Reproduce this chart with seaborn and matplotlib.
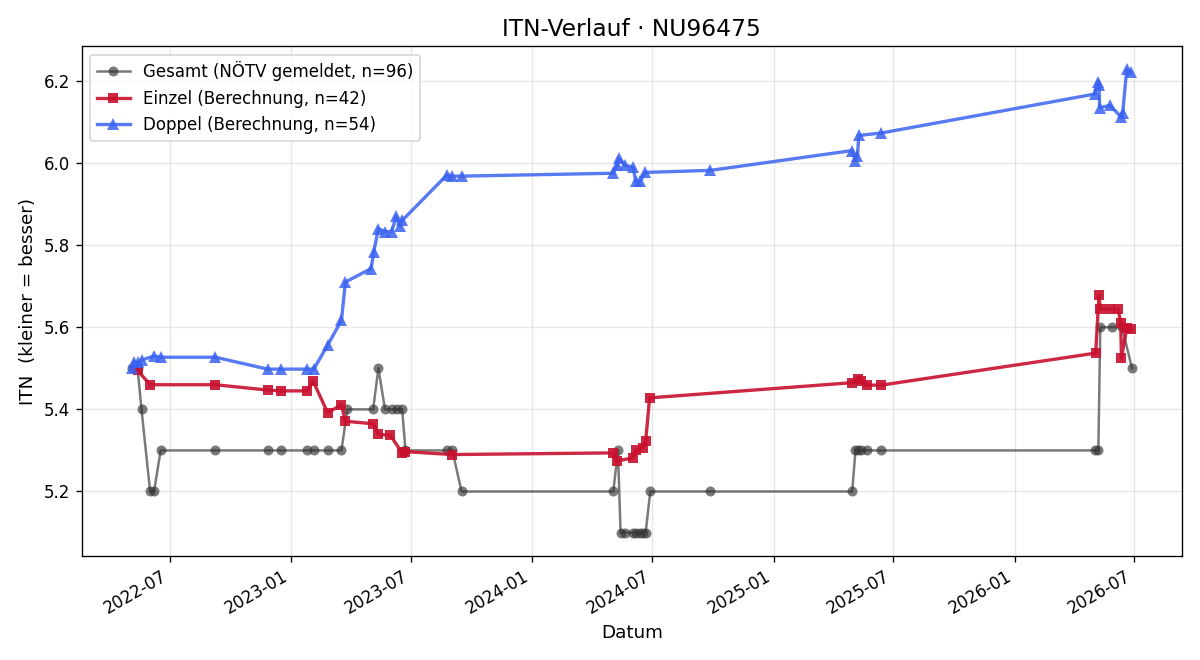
import matplotlib
matplotlib.use("Agg")
import matplotlib.pyplot as plt
import matplotlib.dates as mdates
import pandas as pd
import seaborn as sns

# ---- data ----
gesamt_dates = ["2022-05-04", "2022-05-13", "2022-05-19", "2022-06-01", "2022-06-07", "2022-06-17",
                "2022-09-08", "2022-11-26", "2022-12-17", "2023-01-25", "2023-02-04", "2023-02-25",
                "2023-03-18", "2023-03-27", "2023-05-05", "2023-05-13", "2023-05-23", "2023-06-03",
                "2023-06-10", "2023-06-18", "2023-06-23", "2023-08-25", "2023-09-02", "2023-09-16",
                "2024-05-03", "2024-05-10", "2024-05-14", "2024-05-21", "2024-06-02", "2024-06-07",
                "2024-06-13", "2024-06-17", "2024-06-21", "2024-06-28", "2024-09-27", "2025-04-30",
                "2025-05-05", "2025-05-09", "2025-05-14", "2025-05-22", "2025-06-13", "2026-05-03",
                "2026-05-08", "2026-05-11", "2026-05-28", "2026-06-13", "2026-06-28"]
gesamt_vals = [5.5, 5.5, 5.4, 5.2, 5.2, 5.3,
               5.3, 5.3, 5.3, 5.3, 5.3, 5.3,
               5.3, 5.4, 5.4, 5.5, 5.4, 5.4,
               5.4, 5.4, 5.3, 5.3, 5.3, 5.2,
               5.2, 5.3, 5.1, 5.1, 5.1, 5.1,
               5.1, 5.1, 5.1, 5.2, 5.2, 5.2,
               5.3, 5.3, 5.3, 5.3, 5.3, 5.3,
               5.3, 5.6, 5.6, 5.6, 5.5]

einzel_dates = ["2022-05-13", "2022-06-01", "2022-09-08", "2022-11-26", "2022-12-17", "2023-01-25",
                "2023-02-03", "2023-02-25", "2023-03-18", "2023-03-24", "2023-05-05", "2023-05-13",
                "2023-05-31", "2023-06-18", "2023-06-23", "2023-09-02", "2024-05-03", "2024-05-08",
                "2024-06-02", "2024-06-07", "2024-06-17", "2024-06-21", "2024-06-27", "2025-04-30",
                "2025-05-09", "2025-05-14", "2025-05-22", "2025-06-13", "2026-05-04", "2026-05-09",
                "2026-05-11", "2026-05-25", "2026-06-07", "2026-06-11", "2026-06-12", "2026-06-20",
                "2026-06-27"]
einzel_vals = [5.495, 5.46, 5.46, 5.447, 5.445, 5.445,
               5.469, 5.392, 5.411, 5.371, 5.365, 5.339,
               5.337, 5.294, 5.297, 5.290, 5.294, 5.274,
               5.282, 5.302, 5.307, 5.323, 5.428, 5.465,
               5.473, 5.470, 5.459, 5.459, 5.537, 5.678,
               5.644, 5.644, 5.644, 5.610, 5.525, 5.597,
               5.595]

doppel_dates = ["2022-05-04", "2022-05-07", "2022-05-13", "2022-05-19", "2022-06-07", "2022-06-17",
                "2022-09-08", "2022-11-26", "2022-12-17", "2023-01-25", "2023-02-04", "2023-02-25",
                "2023-03-18", "2023-03-24", "2023-05-02", "2023-05-06", "2023-05-13", "2023-05-23",
                "2023-06-02", "2023-06-09", "2023-06-14", "2023-06-18", "2023-08-25", "2023-09-02",
                "2023-09-16", "2024-05-03", "2024-05-09", "2024-05-11", "2024-05-21", "2024-06-02",
                "2024-06-06", "2024-06-13", "2024-06-20", "2024-09-27", "2025-04-29", "2025-05-05",
                "2025-05-08", "2025-05-10", "2025-06-13", "2026-05-03", "2026-05-07", "2026-05-09",
                "2026-05-10", "2026-05-26", "2026-06-12", "2026-06-14", "2026-06-20", "2026-06-26"]
doppel_vals = [5.500, 5.515, 5.515, 5.520, 5.530, 5.527,
               5.527, 5.498, 5.498, 5.498, 5.498, 5.556,
               5.617, 5.710, 5.743, 5.784, 5.840, 5.833,
               5.833, 5.870, 5.846, 5.860, 5.971, 5.968,
               5.968, 5.975, 5.994, 6.012, 5.994, 5.990,
               5.955, 5.955, 5.977, 5.982, 6.030, 6.006,
               6.018, 6.067, 6.073, 6.168, 6.198, 6.190,
               6.135, 6.140, 6.111, 6.122, 6.228, 6.222]

labels = ["Gesamt (NÖTV gemeldet, n=96)", "Einzel (Berechnung, n=42)", "Doppel (Berechnung, n=54)"]

# ---- plot ----
fig, ax = plt.subplots(figsize=(10, 5.5), dpi=120)

g = pd.DataFrame({"d": pd.to_datetime(gesamt_dates), "v": gesamt_vals})
e = pd.DataFrame({"d": pd.to_datetime(einzel_dates), "v": einzel_vals})
dp = pd.DataFrame({"d": pd.to_datetime(doppel_dates), "v": doppel_vals})

sns.lineplot(data=g, x="d", y="v", ax=ax, color="#333333", alpha=0.65, marker="o",
             markersize=6, linewidth=1.5, markeredgewidth=0, label=labels[0], estimator=None)
sns.lineplot(data=e, x="d", y="v", ax=ax, color="#c8102e", alpha=0.9, marker="s",
             markersize=6.5, linewidth=2, markeredgewidth=0, label=labels[1], estimator=None)
sns.lineplot(data=dp, x="d", y="v", ax=ax, color="#3b63f0", alpha=0.85, marker="^",
             markersize=7, linewidth=2, markeredgewidth=0, label=labels[2], estimator=None)

ax.set_title("ITN-Verlauf · NU96475", fontsize=14)
ax.set_xlabel("Datum", fontsize=11)
ax.set_ylabel("ITN  (kleiner = besser)", fontsize=11)
ax.grid(True, alpha=0.3)
ax.xaxis.set_major_locator(mdates.MonthLocator(bymonth=[1, 7]))
ax.xaxis.set_major_formatter(mdates.DateFormatter("%Y-%m"))
ax.legend(loc="upper left", fontsize=10)
fig.autofmt_xdate()
fig.subplots_adjust(left=0.068, right=0.985, top=0.93, bottom=0.158)
fig.savefig("out.png", dpi=120)
